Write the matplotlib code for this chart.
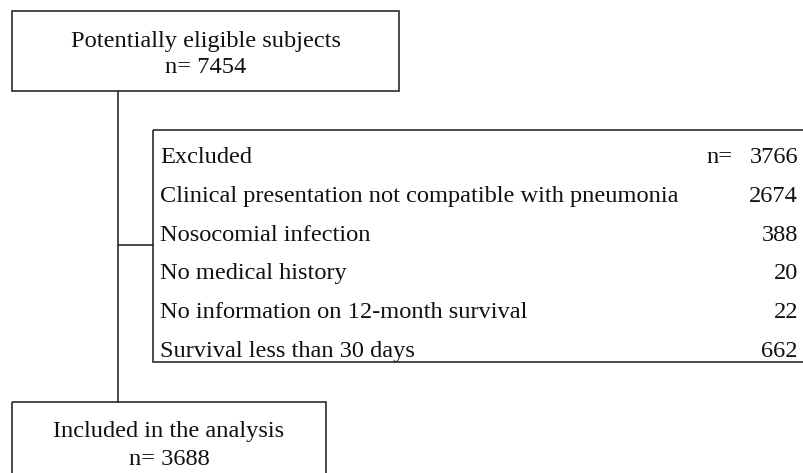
import matplotlib.pyplot as plt
from matplotlib.patches import Rectangle

TOP_LABEL = "Potentially eligible subjects"
TOP_N = 7454
BOTTOM_LABEL = "Included in the analysis"
BOTTOM_N = 3688
EXCLUDED_TOTAL = 3766
REASONS = [
    "Clinical presentation not compatible with pneumonia",
    "Nosocomial infection",
    "No medical history",
    "No information on 12-month survival",
    "Survival less than 30 days",
]
REASON_COUNTS = [2674, 388, 20, 22, 662]

FONT = "Liberation Serif"
FS = 17.6
LINE = "#2b2b2b"
LW = 1.2


def box(ax, x0, y0, x1, y1):
    ax.add_patch(Rectangle((x0, y0), x1 - x0, y1 - y0, fill=False,
                           edgecolor=LINE, linewidth=LW))


def label(ax, x, y, s, ha):
    ax.text(x, y, s, family=FONT, fontsize=FS, ha=ha, va="baseline",
            color="#111111")


def main():
    fig = plt.figure(figsize=(8.04, 4.73), dpi=100)
    ax = fig.add_axes([0, 0, 1, 1])
    ax.set_xlim(0, 804)
    ax.set_ylim(473, 0)
    ax.set_axis_off()

    # connectors
    ax.plot([118, 118], [91, 402], color=LINE, linewidth=LW)
    ax.plot([118, 153], [245, 245], color=LINE, linewidth=LW)

    # top box
    box(ax, 12, 11, 399, 91)
    label(ax, 206, 47, TOP_LABEL, "center")
    label(ax, 206, 73, f"n= {TOP_N}", "center")

    # excluded box (right edge runs off the image)
    box(ax, 153, 130, 815, 362)
    rows = ["Excluded"] + REASONS
    counts = [EXCLUDED_TOTAL] + REASON_COUNTS
    y0, dy = 163, 38.8
    for i, (lab, n) in enumerate(zip(rows, counts)):
        y = y0 + i * dy
        label(ax, 160, y, lab, "left")
        label(ax, 798, y, str(n), "right")
    label(ax, 733, y0, "n=", "right")

    # bottom box (bottom edge runs off the image)
    box(ax, 12, 402, 326, 490)
    label(ax, 169, 437, BOTTOM_LABEL, "center")
    label(ax, 169, 465, f"n= {BOTTOM_N}", "center")

    fig.savefig("out.png", dpi=100, facecolor="white")


if __name__ == "__main__":
    main()
